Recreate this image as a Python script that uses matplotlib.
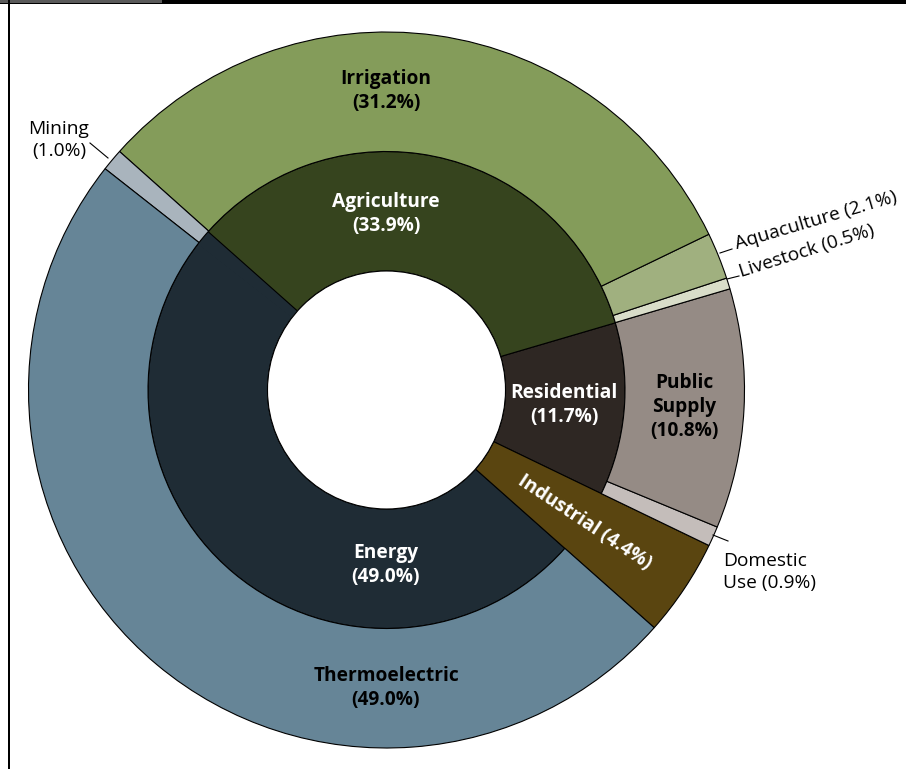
import matplotlib
matplotlib.use("Agg")
import matplotlib.pyplot as plt
from matplotlib.patches import Rectangle, Circle

plt.rcParams["font.family"] = ["Open Sans", "DejaVu Sans"]

# Water use by category (percent of total withdrawals)
outer_labels = ["Industrial", "Domestic Use", "Public Supply", "Livestock",
                "Aquaculture", "Irrigation", "Mining", "Thermoelectric"]
outer_values = [4.4, 0.9, 10.8, 0.5, 2.1, 31.2, 1.0, 49.0]
outer_colors = ["#5a4510", "#c4bdba", "#958b85", "#d9ddc9",
                "#a0b07f", "#849c5a", "#a9b4bd", "#668597"]

inner_labels = ["Industrial", "Residential", "Agriculture", "Mining", "Energy"]
inner_values = [4.4, 11.7, 33.9, 1.0, 49.0]
inner_colors = ["#5a4510", "#2e2723", "#36441e", "#1f2c35", "#1f2c35"]

W, H = 906, 769
fig = plt.figure(figsize=(W / 100, H / 100), dpi=100)
ax = fig.add_axes([0, 0, 1, 1])


def px(x, y):
    return x, H - y


cx, cy = px(386.5, 390)
R_out, ring = 358, 119.5
start = -41.6

edge = dict(edgecolor="black", linewidth=0.8)

inner_w, _ = ax.pie(inner_values, radius=R_out - ring, center=(cx, cy),
                    startangle=start, counterclock=True, colors=inner_colors,
                    wedgeprops=dict(width=ring, **edge))
inner_w[0].set_visible(False)          # industrial spans both rings below
# mining share of the energy wedge blends into the energy colour
inner_w[3].set_edgecolor(inner_colors[3])
inner_w[3].set_linewidth(2.0)
inner_w[3].set_zorder(1.1)
inner_w[2].set_zorder(1.2)

outer_w, _ = ax.pie(outer_values, radius=R_out, center=(cx, cy),
                    startangle=start, counterclock=True, colors=outer_colors,
                    wedgeprops=dict(width=ring, **edge))
for w in outer_w:
    w.set_zorder(1.5)
outer_w[0].set_width(2 * ring)          # industrial: full depth

# donut hole with its outline
ax.add_patch(Circle((cx, cy), R_out - 2 * ring, facecolor="white",
                    edgecolor="black", linewidth=0.8, zorder=1.6))

ax.set_xlim(0, W)
ax.set_ylim(0, H)
ax.set_aspect("equal")
ax.axis("off")

fs = 13.8
bold = dict(fontsize=fs, fontweight="bold", ha="center", va="center",
            linespacing=1.24)
ax.text(*px(386, 91), "Irrigation\n(31.2%)", color="black", **bold)
ax.text(*px(386, 214), "Agriculture\n(33.9%)", color="white", **bold)
ax.text(*px(564, 405), "Residential\n(11.7%)", color="white", **bold)
ax.text(*px(684, 407), "Public\nSupply\n(10.8%)", color="black", **bold)
ax.text(*px(386, 565), "Energy\n(49.0%)", color="white", **bold)
ax.text(*px(386, 688), "Thermoelectric\n(49.0%)", color="black", **bold)
ax.text(*px(585, 522), "Industrial (4.4%)", color="white", fontsize=fs,
        fontweight="bold", ha="center", va="center", rotation=-33.5,
        rotation_mode="anchor")

reg = dict(fontsize=fs, color="black", linespacing=1.24)
ax.text(*px(59, 140), "Mining\n(1.0%)", ha="center", va="center", **reg)
ax.text(*px(723, 572), "Domestic\nUse (0.9%)", ha="left", va="center", **reg)
ax.text(*px(735, 244), "Aquaculture (2.1%)", ha="left", va="center",
        rotation=16.5, rotation_mode="anchor", **reg)
ax.text(*px(740, 272), "Livestock (0.5%)", ha="left", va="center",
        rotation=17.5, rotation_mode="anchor", **reg)

# leader lines
leaders = [((90, 143), (108, 158)), ((720, 253), (732, 249)),
           ((727, 279), (739, 276)), ((713, 535), (728, 541))]
for (x0, y0), (x1, y1) in leaders:
    ax.plot([x0, x1], [H - y0, H - y1], color="black", lw=0.8)

# frame: heavy top rule with a grey tab, thin left rule
ax.add_patch(Rectangle((0, H - 4), W, 4, color="black", lw=0, clip_on=False))
ax.add_patch(Rectangle((0, H - 2.7), 162, 2.7, color="#5a5a5a", lw=0,
                       clip_on=False))
ax.add_patch(Rectangle((8.3, 0), 1.8, H, color="black", lw=0, clip_on=False))

fig.savefig("out.png", dpi=100)
